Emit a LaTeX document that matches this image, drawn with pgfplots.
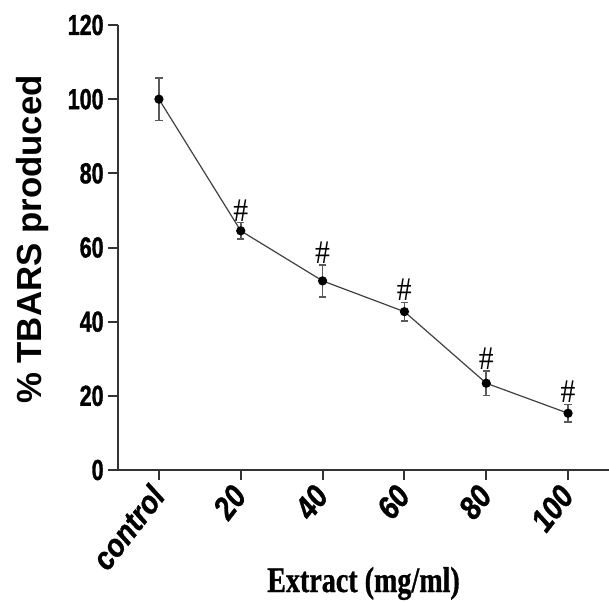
\documentclass[border=0pt]{standalone}
\usepackage{fontspec}
\setmainfont{Liberation Sans}
\newfontfamily\tickfont[FakeStretch=0.74,FakeBold=1.2]{Liberation Sans}
\newfontfamily\xtickfont[FakeStretch=0.88,FakeBold=1]{Liberation Sans}
\newfontfamily\xlabfont[FakeStretch=0.78,FakeBold=0.8]{Liberation Serif}
\newfontfamily\hashfont[FakeStretch=0.9]{Liberation Serif}
\usepackage{pgfplots}
\pgfplotsset{compat=1.18}
\definecolor{axisgray}{HTML}{333333}
\definecolor{bargray}{HTML}{5A5A5A}
\definecolor{linegray}{HTML}{404040}
\begin{document}
\begin{tikzpicture}
\begin{axis}[
  scale only axis, width=245.5pt, height=222.5pt,
  xmin=-0.5, xmax=5.5, ymin=0, ymax=120,
  clip=false,
  axis x line*=bottom, axis y line*=left,
  axis line style={line width=1pt, axisgray},
  xtick={0,...,5}, xticklabels={control,20,40,60,80,100},
  ytick={0,20,...,120},
  tick align=outside, major tick length=5pt,
  tick style={line width=1pt, axisgray},
  /pgf/number format/assume math mode=true,
  yticklabel style={font=\tickfont\bfseries\fontsize{14.5}{16}\selectfont, inner sep=2pt},
  xticklabel shift=4pt,
  xticklabel style={font=\xtickfont\bfseries\itshape\fontsize{16}{18}\selectfont,
    rotate=52, anchor=east, inner sep=1pt},
  xlabel={Extract (mg/ml)},
  xlabel style={font=\xlabfont\bfseries\fontsize{18}{20}\selectfont,
    at={([yshift=-61pt]axis description cs:0.5,0)}, anchor=base},
  ylabel={\% TBARS produced},
  ylabel style={font=\bfseries\fontsize{17.4}{20}\selectfont,
    at={([xshift=-38pt,yshift=4pt]axis description cs:0,0.5)}, anchor=base},
]
% mean +/- error
\addplot[linegray, line width=0.6pt, mark=*, mark size=2pt,
  mark options={black, fill=black},
  error bars/.cd, y dir=both, y explicit,
  error bar style={line width=0.8pt, bargray},
  error mark options={rotate=90, mark size=1.8pt, line width=0.8pt, bargray}]
  coordinates {
  (0,100)  +- (0,5.7)
  (1,64.5) +- (0,2.2)
  (2,51.0) +- (0,4.3)
  (3,42.7) +- (0,2.5)
  (4,23.4) +- (0,3.3)
  (5,15.3) +- (0,2.4)
};
% significance marks
\addplot[draw=none, mark=none, nodes near coords={\hashfont\fontsize{16.5}{18}\selectfont\#},
  every node near coord/.append style={anchor=south, inner sep=0.5pt}]
  coordinates {(1,66.7) (2,55.3) (3,45.2) (4,26.7) (5,17.7)};
\coordinate (sw) at (rel axis cs:0,0);
\coordinate (ne) at (rel axis cs:1,1);
\end{axis}
\pgfresetboundingbox
\path ([shift={(-59pt,-65.5pt)}]sw) rectangle ([shift={(0pt,12.5pt)}]ne);
\end{tikzpicture}
\end{document}
